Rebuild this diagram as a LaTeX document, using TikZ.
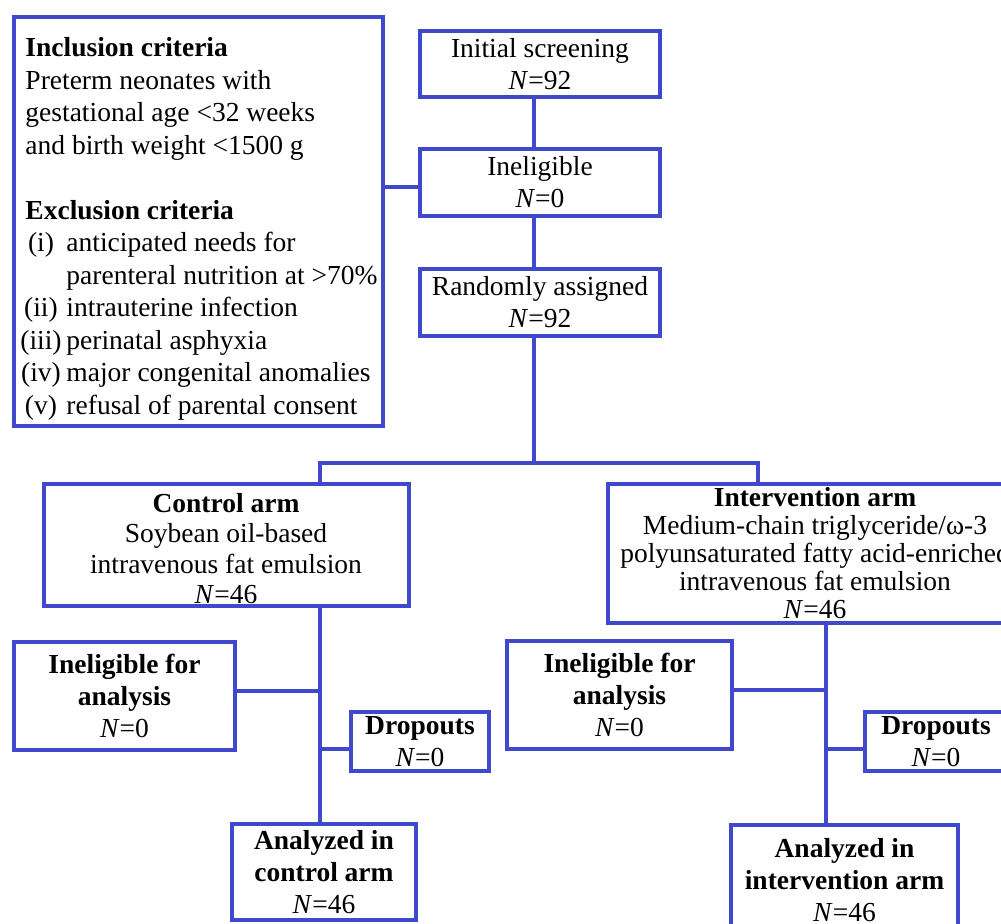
\documentclass[tikz,border=0pt]{standalone}
\usepackage{fontspec}
\setmainfont{Liberation Serif}
\usetikzlibrary{positioning}
\definecolor{fcblue}{HTML}{4048CC}

\newcommand{\crititem}[1]{\makebox[21.5pt][c]{#1}\hspace{2pt}}

\begin{document}
\begin{tikzpicture}[
    x=0.5pt, y=-0.5pt,
    box/.style={draw=fcblue, line width=2pt, fill=white, align=center, inner sep=1pt,
      font=\fontsize{13.75}{16}\selectfont},
    link/.style={draw=fcblue, line width=2pt},
  ]
    \useasboundingbox (0,0) rectangle (1001,924);
    \clip (0,0) rectangle (1001,924);

    % Screening column
    \node[box, minimum width=120pt, minimum height=33pt] (init) at (540,64)
      {Initial screening\\\textit{N}=92};
    \node[box, minimum width=120pt, minimum height=33.5pt] (inel) at (540,182.5)
      {Ineligible\\\textit{N}=0};
    \node[box, minimum width=120pt, minimum height=33.5pt] (rand) at (540,302.5)
      {Randomly assigned\\\textit{N}=92};

    % Criteria
    \node[box, align=left, minimum width=184.5pt, minimum height=204.5pt,
      font=\fontsize{13.75}{16.25}\selectfont] (crit) at (198.5,221.5)
      {\rule{0pt}{17pt}\hspace*{3pt}\textbf{Inclusion criteria}\\
       \hspace*{3pt}Preterm neonates with\\
       \hspace*{3pt}gestational age <32 weeks\\
       \hspace*{3pt}and birth weight <1500 g\\[16.25pt]
       \hspace*{3pt}\textbf{Exclusion criteria}\\
       \crititem{(i)}anticipated needs for\\
       \hspace*{23.5pt}parenteral nutrition at >70\%\\
       \crititem{(ii)}intrauterine infection\\
       \crititem{(iii)}perinatal asphyxia\\
       \crititem{(iv)}major congenital anomalies\\
       \crititem{(v)}refusal of parental consent};

    % Arms
    \node[box, minimum width=182.5pt, minimum height=61pt,
      font=\fontsize{13.75}{15.25}\selectfont] (ctrl) at (226,545)
      {\rule{0pt}{13pt}\textbf{Control arm}\\Soybean oil-based\\intravenous fat emulsion\\\textit{N}=46};
    \node[box, minimum width=207pt, minimum height=69.5pt,
      font=\fontsize{13.75}{14}\selectfont] (intv) at (815,553.5)
      {\textbf{Intervention arm}\\Medium-chain triglyceride/ω-3\\polyunsaturated fatty acid-enriched\\intravenous fat emulsion\\\textit{N}=46};

    % Control follow-up
    \node[box, minimum width=110.5pt, minimum height=54pt] (ie1) at (124.5,696)
      {\textbf{Ineligible for}\\\textbf{analysis}\\\textit{N}=0};
    \node[box, minimum width=69pt, minimum height=29.5pt] (do1) at (420,741.5)
      {\textbf{Dropouts}\\\textit{N}=0};
    \node[box, minimum width=92pt, minimum height=48pt] (ac) at (324,872)
      {\textbf{Analyzed in}\\\textbf{control arm}\\\textit{N}=46};

    % Intervention follow-up
    \node[box, minimum width=112.5pt, minimum height=54pt] (ie2) at (619.5,695)
      {\textbf{Ineligible for}\\\textbf{analysis}\\\textit{N}=0};
    \node[box, minimum width=71pt, minimum height=29.5pt] (do2) at (936,741.5)
      {\textbf{Dropouts}\\\textit{N}=0};
    \node[box, minimum width=113.5pt, minimum height=55pt] (ai) at (844.5,880)
      {\textbf{Analyzed in}\\\textbf{intervention arm}\\\textit{N}=46};

    % Joints
    \coordinate (critj) at (400,187);
    \coordinate (split) at (534,463);
    \coordinate (lsplit) at (320,463);
    \coordinate (rsplit) at (758,463);
    \coordinate (lstem) at (320,691);
    \coordinate (ldrop) at (320,749);
    \coordinate (rstem) at (826,690);
    \coordinate (rdrop) at (826,749);

    % Connectors
    \draw[link] (init.south -| split) -- (inel.north -| split);
    \draw[link] (inel.south -| split) -- (rand.north -| split);
    \draw[link] (rand.south -| split) -- (split);
    \draw[link] (crit.east |- critj) -- (inel.west |- critj);
    \draw[link] (ctrl.north -| lsplit) -- (lsplit) -- (rsplit) -- (intv.north -| rsplit);

    \draw[link] (ctrl.south -| lstem) -- (ac.north -| lstem);
    \draw[link] (ie1.east |- lstem) -- (lstem);
    \draw[link] (ldrop) -- (do1.west |- ldrop);

    \draw[link] (intv.south -| rstem) -- (ai.north -| rstem);
    \draw[link] (ie2.east |- rstem) -- (rstem);
    \draw[link] (rdrop) -- (do2.west |- rdrop);
  \end{tikzpicture}
\end{document}
